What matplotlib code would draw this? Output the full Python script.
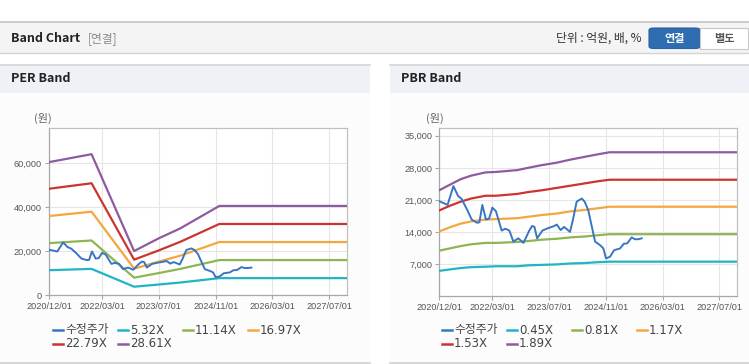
import matplotlib
matplotlib.use("Agg")
import matplotlib.pyplot as plt
import matplotlib.dates as mdates
from matplotlib.patches import Rectangle, FancyBboxPatch
from matplotlib.lines import Line2D
import pandas as pd

plt.rcParams['font.family'] = ['DejaVu Sans', 'Noto Sans CJK KR']

# ---- data ----
price_dates = ["2020-12-01", "2021-01-15", "2021-02-10", "2021-04-01", "2021-05-10", "2021-06-10",
               "2021-07-25", "2021-09-05", "2021-10-20", "2021-11-10", "2021-12-05", "2022-01-05",
               "2022-02-01", "2022-03-01", "2022-04-01", "2022-05-20", "2022-06-20", "2022-07-25",
               "2022-08-28", "2022-10-10", "2022-11-23", "2023-01-10", "2023-02-05", "2023-02-25",
               "2023-03-20", "2023-05-05", "2023-06-20", "2023-08-05", "2023-09-05", "2023-10-08",
               "2023-11-06", "2023-12-27", "2024-01-20", "2024-02-22", "2024-04-06", "2024-05-01",
               "2024-06-01", "2024-07-29", "2024-09-10", "2024-10-08", "2024-10-31", "2024-12-05",
               "2025-01-08", "2025-03-01", "2025-04-01", "2025-05-01", "2025-06-08", "2025-07-07",
               "2025-08-05", "2025-09-02"]
price = [20700, 20200, 19900, 24000, 21900, 21200,
         19000, 16700, 16000, 16100, 19900, 16700,
         16900, 19300, 18500, 14300, 14700, 14300,
         11900, 12600, 11600, 14200, 15300, 15100,
         12600, 14300, 14800, 15200, 15600, 14400,
         15100, 14000, 16500, 20600, 21300, 20600,
         18700, 11900, 11100, 10400, 8200, 8600,
         10000, 10400, 11400, 11500, 12800, 12400,
         12400, 12600]

per_dates = ["2020-12-01", "2021-12-01", "2022-12-01", "2023-07-01", "2024-01-01", "2024-12-01", "2027-12-01"]
per_532 = [11400, 12000, 3900, 4900, 5800, 7800, 7800]
per_1114 = [23700, 24900, 8000, 10100, 12000, 16000, 16000]
per_1697 = [36000, 38000, 12100, 15300, 18000, 24200, 24200]
per_2279 = [48400, 50900, 16200, 20400, 24300, 32400, 32400]
per_2861 = [60500, 64100, 20100, 25900, 30400, 40600, 40600]

pbr_dates = ["2020-12-01", "2021-03-01", "2021-06-01", "2021-09-01", "2022-01-01", "2022-04-01",
             "2022-10-01", "2023-01-01", "2023-05-01", "2023-09-01", "2024-01-01", "2024-05-01",
             "2024-09-01", "2024-12-01", "2027-12-01"]
pbr_045 = [5500, 5800, 6100, 6300, 6400, 6500, 6500, 6700, 6800, 6900, 7100, 7200, 7400, 7500, 7500]
pbr_081 = [9900, 10400, 10900, 11300, 11600, 11600, 11800, 12000, 12300, 12500, 12800, 13000, 13300, 13500, 13500]
pbr_117 = [14100, 15000, 15800, 16300, 16700, 16800, 17000, 17300, 17700, 18000, 18500, 18800, 19200, 19500, 19500]
pbr_153 = [18700, 19700, 20600, 21300, 21900, 21900, 22300, 22700, 23100, 23600, 24100, 24600, 25100, 25400, 25400]
pbr_189 = [23100, 24300, 25500, 26300, 27000, 27100, 27500, 28000, 28600, 29100, 29800, 30400, 31000, 31400, 31400]

per_labels = ["수정주가", "5.32X", "11.14X", "16.97X", "22.79X", "28.61X"]
pbr_labels = ["수정주가", "0.45X", "0.81X", "1.17X", "1.53X", "1.89X"]
colors = ["#3a75c4", "#21b4c6", "#8db552", "#f3a73f", "#cc3430", "#8e5aa0"]

x_ticks = ["2020-12-01", "2022-03-01", "2023-07-01", "2024-11-01", "2026-03-01", "2027-07-01"]
per_yticks = [0, 20000, 40000, 60000]
pbr_yticks = [7000, 14000, 21000, 28000, 35000]

# ---- figure / page chrome ----
W, H = 749, 364
fig = plt.figure(figsize=(W / 100, H / 100), dpi=100)
fig.patch.set_facecolor("white")


def fx(px):
    return px / W


def fy(py):
    return 1 - py / H


def rect(x0, y0, x1, y1, fc, ec="none", lw=0):
    fig.patches.append(Rectangle((fx(x0), fy(y1)), fx(x1) - fx(x0), fy(y0) - fy(y1),
                                 transform=fig.transFigure, facecolor=fc, edgecolor=ec,
                                 linewidth=lw, zorder=-5))


def hline(x0, x1, y, color, lw=1.0):
    fig.lines.append(Line2D([fx(x0), fx(x1)], [fy(y), fy(y)], transform=fig.transFigure,
                            color=color, linewidth=lw, zorder=-4))


# top header bar
rect(0, 22, W, 53, "#f4f4f4")
hline(0, W, 22, "#c4c4c4", 1.2)
hline(0, W, 53, "#d4d4d4", 1.0)
fig.text(fx(11), fy(38.5), "Band Chart", fontsize=9, fontweight="bold", color="#222222",
         va="center", family=["Noto Sans CJK KR"])
fig.text(fx(88), fy(38.5), "[연결]", fontsize=8.5, color="#8a8a8a", va="center",
         family=["Noto Sans CJK KR"])
fig.text(fx(642), fy(38.5), "단위 : 억원, 배, %", fontsize=8.5, color="#333333", va="center",
         ha="right", family=["Noto Sans CJK KR", "DejaVu Sans"])
fig.patches.append(FancyBboxPatch((fx(649), fy(48.5)), fx(51), fy(28) - fy(48.5),
                                  boxstyle="round,pad=0,rounding_size=0.006",
                                  transform=fig.transFigure, facecolor="#2f6db3",
                                  edgecolor="#2a62a3", linewidth=0.8, zorder=2))
fig.patches.append(Rectangle((fx(700), fy(48.5)), fx(48), fy(28) - fy(48.5),
                             transform=fig.transFigure, facecolor="white",
                             edgecolor="#c8c8c8", linewidth=0.8, zorder=2))
fig.text(fx(674.5), fy(38.5), "연결", fontsize=8, fontweight="bold", color="white",
         ha="center", va="center", family=["Noto Sans CJK KR"], zorder=3)
fig.text(fx(724), fy(38.5), "별도", fontsize=8, fontweight="bold", color="#555555",
         ha="center", va="center", family=["Noto Sans CJK KR"], zorder=3)

# panels
for px0, px1, title in [(0, 370, "PER Band"), (390, W, "PBR Band")]:
    rect(px0, 64, px1, 363, "#fcfcfc")
    rect(px0, 64, px1, 93, "#eef2f7")
    hline(px0, px1, 64.5, "#d6d6d6", 1.2)
    hline(px0, px1, 363, "#d0d0d0", 1.2)
    fig.text(fx(px0 + 11), fy(79), title, fontsize=9, fontweight="bold", color="#222222",
             va="center", family=["Noto Sans CJK KR"])


def band_axes(left, right, top, bottom, dates, bands, ymax, yticks):
    ax = fig.add_axes([fx(left), fy(bottom), fx(right) - fx(left), fy(top) - fy(bottom)])
    ax.set_zorder(5)
    ax.set_facecolor("white")
    d = pd.to_datetime(dates)
    for vals, c in zip(bands, colors[1:]):
        ax.plot(d, vals, color=c, linewidth=1.6, solid_joinstyle="round", zorder=3)
    ax.plot(pd.to_datetime(price_dates), price, color=colors[0], linewidth=1.4, zorder=4)
    ax.set_xlim(pd.Timestamp("2020-12-01"), pd.Timestamp("2027-12-01"))
    ax.set_ylim(0, ymax)
    ax.set_xticks(pd.to_datetime(x_ticks))
    ax.xaxis.set_major_formatter(mdates.DateFormatter("%Y/%m/%d"))
    ax.set_yticks(yticks)
    ax.set_yticklabels([f"{v:,}" for v in yticks])
    ax.grid(True, color="#e6e6e6", linewidth=0.8, zorder=0)
    ax.set_axisbelow(True)
    for s in ax.spines.values():
        s.set_color("#c0c0c0")
        s.set_linewidth(0.9)
    ax.spines["bottom"].set_color("#a8a8a8")
    ax.spines["left"].set_color("#a8a8a8")
    ax.tick_params(axis="both", labelsize=6.6, colors="#a8a8a8", labelcolor="#555555",
                   length=3, width=0.8, pad=2)
    for lab in ax.get_xticklabels() + ax.get_yticklabels():
        lab.set_family("Liberation Sans")
    return ax


band_axes(49, 347, 128, 295.3, per_dates,
          [per_532, per_1114, per_1697, per_2279, per_2861], 76000, per_yticks)
band_axes(439.3, 737.3, 128, 296, pbr_dates,
          [pbr_045, pbr_081, pbr_117, pbr_153, pbr_189], 36700, pbr_yticks)

fig.text(fx(43), fy(118), "(원)", fontsize=8, color="#666666", ha="center", va="center",
         family=["Noto Sans CJK KR"])
fig.text(fx(435), fy(118), "(원)", fontsize=8, color="#666666", ha="center", va="center",
         family=["Noto Sans CJK KR"])

# legends
for x0, labels in [(53, per_labels), (442, pbr_labels)]:
    for i, (lab, c) in enumerate(zip(labels, colors)):
        col, row = i % 4, i // 4
        lx = x0 + col * 65
        ly = 330 + row * 13.5
        fig.lines.append(Line2D([fx(lx), fx(lx + 10)], [fy(ly), fy(ly)],
                                transform=fig.transFigure, color=c, linewidth=1.8))
        fig.text(fx(lx + 12), fy(ly), lab, fontsize=8.5, color="#444444", va="center",
                 family=["Noto Sans CJK KR", "DejaVu Sans"] if i == 0 else ["DejaVu Sans"])

fig.savefig("out.png", dpi=100)
